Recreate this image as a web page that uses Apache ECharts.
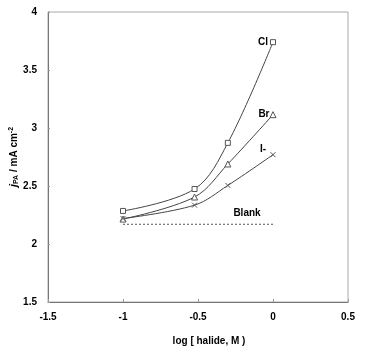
<!DOCTYPE html>
<html><head><meta charset="utf-8">
<script src="https://cdn.jsdelivr.net/npm/echarts@6/dist/echarts.min.js"></script>
<style>html,body{margin:0;padding:0;background:#fff}#c{width:369px;height:349px}</style>
</head><body><div id="c"></div>
<script>
var xVals = [-1, -0.523, -0.301, 0];
var clVals = [2.285, 2.474, 2.872, 3.74];
var brVals = [2.215, 2.405, 2.69, 3.115];
var iVals = [2.22, 2.335, 2.505, 2.77];
var blankX = [-1, 0];
var blankVals = [2.17, 2.17];
var seriesNames = ['Cl', 'Br', 'I-', 'Blank'];

function pairs(xs, ys) { return xs.map(function (x, i) { return [x, ys[i]]; }); }
function withEndLabel(data, text, offset) {
  var last = data.length - 1;
  data[last] = { value: data[last], label: { show: true, formatter: text, position: 'left', offset: offset, fontFamily: 'Liberation Sans', fontWeight: 'bold', fontSize: 10, color: '#000', distance: 2 } };
  return data;
}
var lineStyle = { color: '#444', width: 1 };
var itemStyle = { color: '#fff', borderColor: '#555', borderWidth: 1 };
var chart = echarts.init(document.getElementById('c'));
chart.setOption({
  animation: false,
  grid: { left: 48, right: 21, top: 12, bottom: 47, show: true, borderColor: '#aaa', borderWidth: 1, outerBoundsMode: 'none', containLabel: false },
  xAxis: {
    type: 'value', min: -1.5, max: 0.5, interval: 0.5,
    name: 'log [ halide, M )', nameLocation: 'middle', nameGap: 34, nameMoveOverlap: false,
    nameTextStyle: { fontFamily: 'Liberation Sans', fontWeight: 'bold', fontSize: 10, color: '#000', padding: [0, 0, 0, 22] },
    axisLine: { onZero: false, lineStyle: { color: '#777' } },
    axisTick: { inside: true, length: 3, lineStyle: { color: '#999' } },
    splitLine: { show: false },
    axisLabel: { fontFamily: 'Liberation Sans', fontWeight: 'bold', fontSize: 10, color: '#000', margin: 10 }
  },
  yAxis: {
    type: 'value', min: 1.5, max: 4, interval: 0.5,
    name: '{i|j}{s|PA} / mA cm{p|-2}', nameLocation: 'middle', nameGap: 28, nameMoveOverlap: false,
    nameTextStyle: { fontFamily: 'Liberation Sans', fontWeight: 'bold', fontSize: 10, color: '#000',
      rich: { i: { fontStyle: 'italic', fontWeight: 'bold', fontSize: 11, fontFamily: 'Liberation Sans' },
              s: { fontSize: 7, fontWeight: 'bold', verticalAlign: 'bottom', fontFamily: 'Liberation Sans', padding: [4, 0, 0, 0] },
              p: { fontSize: 7, fontWeight: 'bold', verticalAlign: 'top', fontFamily: 'Liberation Sans', padding: [0, 0, 5, 0] } } },
    axisLine: { show: true, onZero: false, lineStyle: { color: '#777' } },
    axisTick: { show: true, inside: true, length: 2, lineStyle: { color: '#999' } },
    splitLine: { show: false },
    axisLabel: { fontFamily: 'Liberation Sans', fontWeight: 'bold', fontSize: 10, color: '#000', margin: 11 }
  },
  series: [
    { name: seriesNames[0], type: 'line', smooth: 0.35, symbol: 'rect', symbolSize: 5, lineStyle: lineStyle, itemStyle: itemStyle,
      data: withEndLabel(pairs(xVals, clVals), 'Cl', [0, 0]) },
    { name: seriesNames[1], type: 'line', smooth: 0.35, symbol: 'triangle', symbolSize: 6, lineStyle: lineStyle, itemStyle: itemStyle,
      data: withEndLabel(pairs(xVals, brVals), 'Br', [2, 0]) },
    { name: seriesNames[2], type: 'line', smooth: 0.35, symbol: 'path://M0,0L10,10M10,0L0,10', symbolSize: 5, lineStyle: lineStyle,
      itemStyle: { color: '#555', borderColor: '#555', borderWidth: 1 },
      data: withEndLabel(pairs(xVals, iVals), 'I-', [-2, -5]) },
    { name: seriesNames[3], type: 'line', symbol: 'circle', symbolSize: 0.01, showSymbol: true,
      itemStyle: { color: 'rgba(0,0,0,0)', borderWidth: 0 },
      lineStyle: { color: '#555', width: 1, type: [2, 2] },
      data: (function () { var d = pairs(blankX, blankVals);
        d[1] = { value: d[1], label: { show: true, formatter: 'Blank', position: 'top', offset: [-26, -1], fontFamily: 'Liberation Sans', fontWeight: 'bold', fontSize: 10, color: '#000' } };
        return d; })() }
  ]
});
</script></body></html>
